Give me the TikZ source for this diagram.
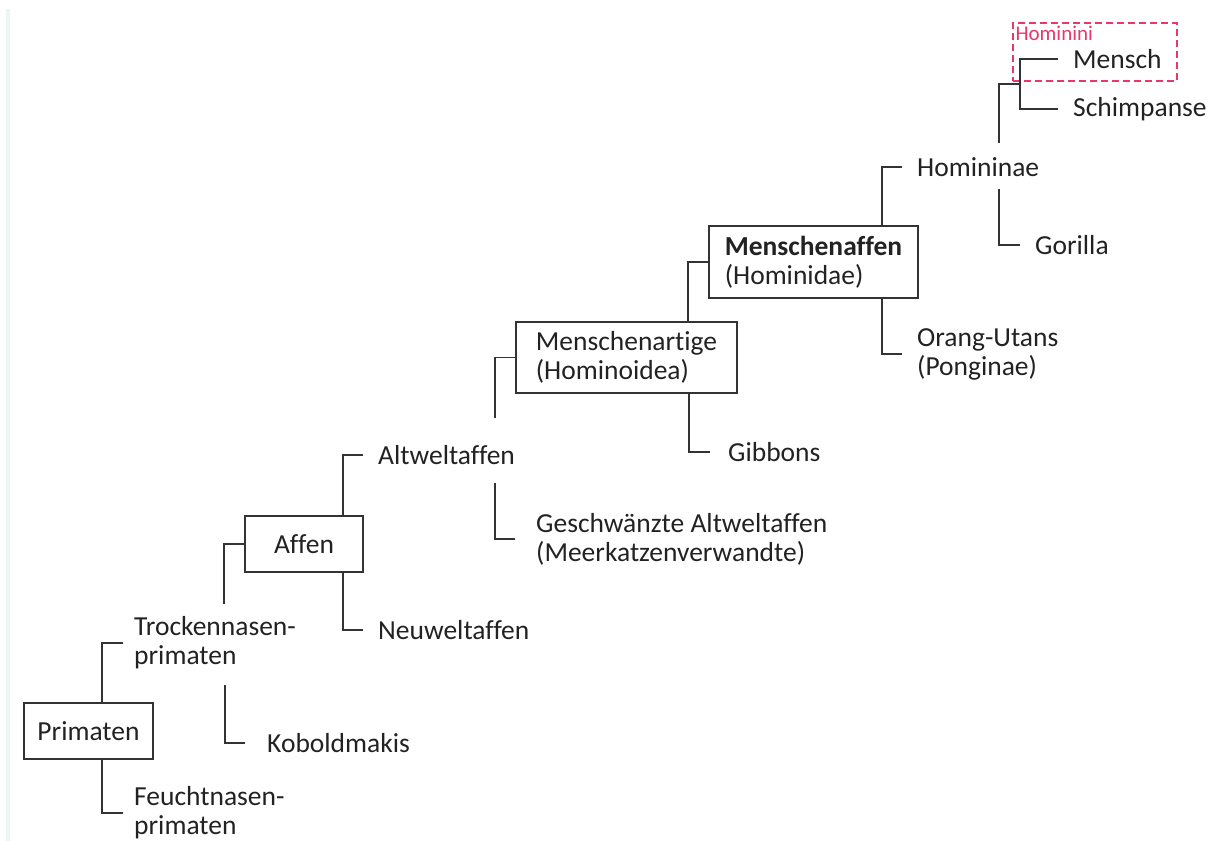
\documentclass[tikz,border=0pt]{standalone}
\usepackage{fontspec}
\setmainfont{Carlito}[Ligatures=NoCommon]
\usetikzlibrary{calc}

\definecolor{linegray}{HTML}{333333}
\definecolor{textgray}{HTML}{222222}
\definecolor{tribepink}{HTML}{E8386B}
\definecolor{edgecyan}{HTML}{EAF6F4}

\tikzset{
  branch/.style={line width=1.8pt, draw=linegray},
  taxon/.style={anchor=west, inner xsep=15pt, inner ysep=0pt, align=left,
    text=textgray, font=\fontsize{27.5}{29}\selectfont},
  taxbox/.style={draw=linegray, line width=1.8pt, align=left, inner sep=0pt,
    text=textgray, font=\fontsize{27.5}{29}\selectfont},
}

\begin{document}
\begin{tikzpicture}[x=1pt,y=-1pt]
  \useasboundingbox (0,0) rectangle (1216,841);
  \fill[edgecyan] (6,9) rectangle (10,841);

  % boxed groups
  \node[taxbox, minimum width=129, minimum height=56] (prim) at (88.5,731) {Primaten};
  \node[taxbox, minimum width=118, minimum height=56] (affen) at (304,544) {Affen};
  \node[taxbox, minimum width=221, minimum height=71] (artige) at (626.5,357.5) {Menschenartige\\(Hominoidea)};
  \node[taxbox, minimum width=209, minimum height=72] (menschaffen) at (813.5,262) {\textbf{Menschenaffen}\\(Hominidae)};

  % tribe frame
  \node[draw=tribepink, dash pattern=on 7pt off 4pt, line width=1.3pt,
    minimum width=164, minimum height=58, inner sep=0pt] (tribebox) at (1095,52) {};
  \node[anchor=north west, inner xsep=3pt, inner ysep=3pt, text=tribepink,
    font=\fontsize{21}{22}\selectfont] (tribelabel) at (tribebox.north west) {Hominini};

  % plain taxa
  \node[taxon, inner xsep=11pt] (trock) at (123,643) {Trockennasen-\\primaten};
  \node[taxon, inner xsep=11pt] (feucht) at (123,813) {Feuchtnasen-\\primaten};
  \node[taxon, inner xsep=22pt] (kobold) at (245,743) {Koboldmakis};
  \node[taxon] (altwelt) at (363,455) {Altweltaffen};
  \node[taxon] (neuwelt) at (363,630) {Neuweltaffen};
  \node[taxon, inner xsep=21pt] (geschw) at (515,539) {Geschwänzte Altweltaffen\\(Meerkatzenverwandte)};
  \node[taxon, inner xsep=18pt] (gibbon) at (710,452) {Gibbons};
  \node[taxon] (orang) at (902,354) {Orang-Utans\\(Ponginae)};
  \node[taxon] (homininae) at (902,167) {Homininae};
  \node[taxon] (gorilla) at (1020,245) {Gorilla};
  \node[taxon] (mensch) at (1058,59) {Mensch};
  \node[taxon] (schimp) at (1058,109) {Schimpanse};

  % branches
  \draw[branch] (trock.west) -- ++(-21,0) coordinate (p1) -- (p1 |- prim.north);
  \draw[branch] (feucht.west) -- ++(-21,0) coordinate (p2) -- (p2 |- prim.south);
  \draw[branch] (affen.west) -- ++(-20,0) coordinate (a0) -- ($(a0 |- trock.north)+(0,-13)$);
  \draw[branch] (kobold.west) -- ++(-20,0) coordinate (k0) -- ($(k0 |- trock.south)+(0,16)$);
  \draw[branch] (altwelt.west) -- ++(-20,0) coordinate (a1) -- (a1 |- affen.north);
  \draw[branch] (neuwelt.west) -- ++(-20,0) coordinate (a2) -- (a2 |- affen.south);
  \draw[branch] (artige.west) -- ++(-20,0) coordinate (h0) -- ($(h0 |- altwelt.north)+(0,-27)$);
  \draw[branch] (geschw.west) -- ++(-20,0) coordinate (g0) -- ($(g0 |- altwelt.south)+(0,18)$);
  \draw[branch] (menschaffen.west) -- ++(-20,0) coordinate (h1) -- (h1 |- artige.north);
  \draw[branch] (gibbon.west) -- ++(-21,0) coordinate (h2) -- (h2 |- artige.south);
  \draw[branch] (homininae.west) -- ++(-20,0) coordinate (m1) -- (m1 |- menschaffen.north);
  \draw[branch] (orang.west) -- ++(-20,0) coordinate (m2) -- (m2 |- menschaffen.south);
  \draw[branch] (gorilla.west) -- ++(-21,0) coordinate (o0) -- ($(o0 |- homininae.south)+(0,12)$);
  \draw[branch] (mensch.west) -- ++(-38,0) coordinate (m0) -- (m0 |- schimp.west) -- (schimp.west);
  \coordinate (tribe) at ($(m0)!0.5!(m0 |- schimp.west)$);
  \draw[branch] (tribe) -- ++(-21,0) coordinate (t0) -- ($(t0 |- homininae.north)+(0,-14)$);
\end{tikzpicture}
\end{document}
